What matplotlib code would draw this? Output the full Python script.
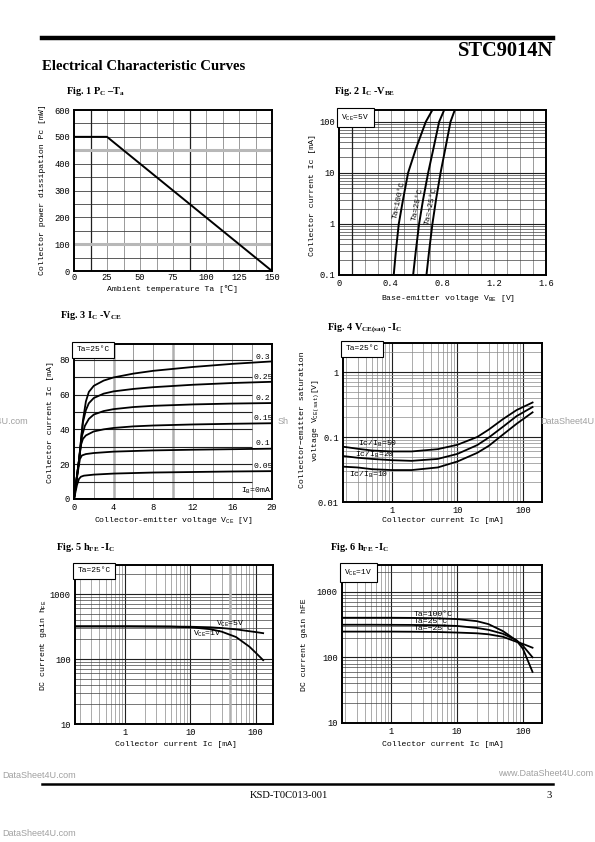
import matplotlib
matplotlib.use('Agg')
import matplotlib.pyplot as plt
from matplotlib.lines import Line2D
from matplotlib.ticker import NullFormatter, MultipleLocator, LogLocator

plt.rcParams['font.family'] = ['Liberation Mono', 'DejaVu Sans Mono', 'DejaVu Sans']
plt.rcParams['mathtext.fontset'] = 'custom'
plt.rcParams['mathtext.rm'] = 'Liberation Mono'
plt.rcParams['mathtext.it'] = 'Liberation Mono'
plt.rcParams['mathtext.bf'] = 'Liberation Serif:bold'
plt.rcParams['font.size'] = 6

# ---- data ----
# Fig 1  Pc - Ta
ta = [0, 25, 150]
pc = [500, 500, 0]

# Fig 2  Ic - Vbe  (Vce = 5V)
ic_vbe = [0.1, 0.3, 1, 3, 10, 30, 100, 170]
vbe_100 = [0.423, 0.440, 0.462, 0.495, 0.534, 0.595, 0.671, 0.722]
vbe_25 = [0.573, 0.594, 0.619, 0.650, 0.689, 0.730, 0.774, 0.813]
vbe_m25 = [0.676, 0.697, 0.722, 0.750, 0.785, 0.822, 0.862, 0.895]

# Fig 3  Ic - Vce  (curves by Ib in mA)
ib_labels = ['0.3', '0.25', '0.2', '0.15', '0.1', '0.05']
vce_03 = [0, 0.5, 0.9, 1.2, 1.5, 2, 3, 4, 6, 8, 12, 16, 20]
ic_03 = [0, 22, 45, 56, 61.5, 65, 68, 69.8, 72, 73.6, 75.8, 77.6, 79]
vce_025 = [0, 0.5, 0.9, 1.2, 1.5, 2, 3, 4, 6, 8, 12, 16, 20]
ic_025 = [0, 22, 44, 51, 55, 58, 60.5, 61.8, 63.2, 64.2, 65.6, 66.6, 67.3]
vce_02 = [0, 0.5, 0.8, 1.1, 1.5, 2, 3, 4, 6, 8, 12, 16, 20]
ic_02 = [0, 22, 36, 42, 46, 48.5, 50.5, 51.6, 52.8, 53.5, 54.3, 54.8, 55.1]
vce_015 = [0, 0.5, 0.7, 0.9, 1.2, 2, 3, 4, 6, 8, 12, 16, 20]
ic_015 = [0, 22, 31, 34.5, 36.5, 38.8, 40, 40.8, 41.7, 42.2, 42.8, 43.2, 43.5]
vce_01 = [0, 0.4, 0.6, 0.8, 1.2, 2, 4, 8, 12, 16, 20]
ic_01 = [0, 16, 23, 25, 25.8, 26.4, 27.2, 27.9, 28.3, 28.6, 28.9]
vce_005 = [0, 0.3, 0.5, 0.7, 1, 2, 4, 8, 12, 16, 20]
ic_005 = [0, 8, 11.5, 12.8, 13.4, 14, 14.6, 15.2, 15.5, 15.8, 16]
vce_0 = [0, 20]
ic_0 = [0, 0]
ib_label_y = [81.5, 69.8, 57.8, 46, 31.7, 18.8]

# Fig 4  Vce(sat) - Ic
ic_sat = [0.18, 0.3, 0.5, 1, 2, 5, 10, 20, 30, 50, 80, 140]
vsat_50 = [0.071, 0.066, 0.062, 0.060, 0.060, 0.065, 0.076, 0.10, 0.13, 0.19, 0.26, 0.34]
vsat_20 = [0.051, 0.048, 0.046, 0.044, 0.043, 0.046, 0.055, 0.075, 0.098, 0.145, 0.21, 0.29]
vsat_10 = [0.035, 0.034, 0.032, 0.031, 0.031, 0.034, 0.042, 0.057, 0.073, 0.11, 0.16, 0.24]

# Fig 5  hFE - Ic (Ta = 25C)
ic_h5 = [0.17, 0.5, 1, 2, 5, 10, 20, 30, 50, 80, 100, 130]
hfe_5v = [318, 318, 318, 317, 316, 314, 308, 300, 286, 268, 260, 250]
hfe_1v = [318, 318, 318, 317, 315, 308, 288, 264, 218, 155, 125, 96]

# Fig 6  hFE - Ic (Vce = 1V)
ic_h6 = [0.18, 0.5, 1, 2, 5, 10, 20, 30, 50, 80, 100, 140]
hfe_100 = [400, 400, 400, 398, 392, 382, 355, 320, 250, 180, 135, 60]
hfe_25 = [313, 313, 312, 311, 308, 300, 280, 262, 228, 182, 150, 100]
hfe_m25 = [246, 246, 246, 245, 243, 238, 232, 224, 205, 172, 160, 140]

W, H = 595, 842
fig = plt.figure(figsize=(5.95, 8.42), dpi=100)
fig.patch.set_facecolor('white')
TICK = 6.3
LAB = 5.9
TITLE = 7.4


def add_ax(l, t, r, b):
    ax = fig.add_axes([l / W, 1 - b / H, (r - l) / W, (b - t) / H])
    for s in ax.spines.values():
        s.set_linewidth(1.4)
    ax.tick_params(which='both', length=0, pad=3, labelsize=TICK)
    return ax


def ftext(x, y, s, **kw):
    fig.text(x / W, 1 - y / H, s, **kw)


def logfix(ax, axis='both'):
    for a in ([ax.xaxis, ax.yaxis] if axis == 'both' else [getattr(ax, axis + 'axis')]):
        a.set_minor_locator(LogLocator(base=10, subs=range(2, 10)))
        a.set_minor_formatter(NullFormatter())


def boxlabel(ax, s):
    ax.text(0.012, 0.985, s, transform=ax.transAxes, ha='left', va='top', fontsize=5.7,
            bbox=dict(boxstyle='square,pad=0.55', fc='white', ec='black', lw=0.8), zorder=5)


serif = dict(family='Liberation Serif', weight='bold')

# ---- page header / footer ----
fig.add_artist(Line2D([42 / W, 553 / W], [1 - 38 / H] * 2, color='k', lw=3.2))
ftext(553, 51, 'STC9014N', ha='right', va='center', fontsize=14.8, **serif)
ftext(42, 67, 'Electrical Characteristic Curves', ha='left', va='center', fontsize=10.6, **serif)
fig.add_artist(Line2D([42 / W, 553 / W], [1 - 784 / H] * 2, color='k', lw=1.8))
ftext(289, 795, 'KSD-T0C013-001', ha='center', va='center', fontsize=7.6, family='Liberation Serif')
ftext(552, 795, '3', ha='right', va='center', fontsize=7.6, family='Liberation Serif')
wm = dict(color='#a0a0a0', family='Liberation Sans', fontsize=6.5, va='center')
ftext(2, 776, 'DataSheet4U.com', ha='left', **wm)
ftext(593, 774, 'www.DataSheet4U.com', ha='right', **wm)
ftext(2, 833, 'DataSheet4U.com', ha='left', **wm)
ftext(28, 421, 'DataSheet4U.com', ha='right', **wm)
ftext(278, 421, 'Sh', ha='left', **wm)
ftext(540, 421, 'DataSheet4U.com', ha='left', **wm)

# ---- Fig 1 ----
ftext(66, 92, 'Fig. 1 P$\\mathbf{_{C}}$ \u2013T$\\mathbf{_{a}}$', ha='left', va='center', fontsize=TITLE, **serif)
ax1 = add_ax(74, 110, 272, 271)
ax1.tick_params(axis='x', pad=1.5)
ax1.set_xlim(0, 150)
ax1.set_ylim(0, 600)
ax1.set_xticks([0, 25, 50, 75, 100, 125, 150])
ax1.set_yticks([0, 100, 200, 300, 400, 500, 600])
ax1.xaxis.set_minor_locator(MultipleLocator(12.5))
ax1.yaxis.set_minor_locator(MultipleLocator(50))
ax1.grid(which='both', axis='x', color='#8a8a8a', lw=0.6)
ax1.grid(which='both', axis='y', color='#404040', lw=0.6)
for xv in [12.5, 87.5]:
    ax1.axvline(xv, color='#202020', lw=0.9)
for yv in [100, 450]:
    ax1.axhline(yv, color='#b8b8b8', lw=2.2)
ax1.plot(ta, pc, color='k', lw=1.4, zorder=4)
ftext(43, 190, 'Collector power dissipation Pc [mW]', rotation=90, ha='center', va='center', fontsize=LAB)
ftext(172, 289, 'Ambient temperature Ta [\u2103]', ha='center', va='center', fontsize=LAB)

# ---- Fig 2 ----
ftext(334, 92, 'Fig. 2 I$\\mathbf{_{C}}$ -V$\\mathbf{_{BE}}$', ha='left', va='center', fontsize=TITLE, **serif)
ax2 = add_ax(339, 110, 546, 275)
ax2.set_yscale('log')
ax2.set_xlim(0, 1.6)
ax2.set_ylim(0.1, 170)
logfix(ax2, 'y')
ax2.set_xticks([0, 0.4, 0.8, 1.2, 1.6])
ax2.set_xticklabels(['0', '0.4', '0.8', '1.2', '1.6'])
ax2.set_yticks([0.1, 1, 10, 100])
ax2.set_yticklabels(['0.1', '1', '10', '100'])
ax2.xaxis.set_minor_locator(MultipleLocator(0.1))
ax2.grid(which='both', axis='x', color='#8a8a8a', lw=0.6)
ax2.grid(which='minor', axis='y', color='#404040', lw=0.5)
ax2.grid(which='major', axis='y', color='#202020', lw=0.8)
ax2.axvline(0.1, color='#202020', lw=0.9)
for v in [vbe_100, vbe_25, vbe_m25]:
    ax2.plot(v, ic_vbe, color='k', lw=1.4, zorder=4)
for x, y, s in [(0.465, 2.9, 'Ta=100\u00b0C'), (0.605, 2.4, 'Ta=25\u00b0C'), (0.715, 2.2, 'Ta=\u221225\u00b0C')]:
    ax2.text(x, y, s, rotation=78, ha='center', va='center', fontsize=5.8, zorder=5)
boxlabel(ax2, 'V$_{\\rm CE}$=5V')
ftext(312, 195, 'Collector current Ic [mA]', rotation=90, ha='center', va='center', fontsize=LAB)
ftext(448, 298, 'Base-emitter voltage V$_{\\rm BE}$ [V]', ha='center', va='center', fontsize=LAB)

# ---- Fig 3 ----
ftext(60, 315, 'Fig. 3 I$\\mathbf{_{C}}$ -V$\\mathbf{_{CE}}$', ha='left', va='center', fontsize=TITLE, **serif)
ax3 = add_ax(74, 344, 272, 499)
ax3.set_xlim(0, 20)
ax3.set_ylim(0, 89)
ax3.set_xticks([0, 4, 8, 12, 16, 20])
ax3.set_yticks([0, 20, 40, 60, 80])
for xv in [2, 6, 8, 12, 14, 16, 18]:
    ax3.axvline(xv, color='#8a8a8a', lw=0.6)
for xv in [4, 10]:
    ax3.axvline(xv, color='#b0b0b0', lw=1.8)
ax3.hlines([10, 20, 30, 40, 50, 60, 70, 80], 0, 18, color='#202020', lw=0.8)
curves3 = [(vce_03, ic_03), (vce_025, ic_025), (vce_02, ic_02), (vce_015, ic_015),
           (vce_01, ic_01), (vce_005, ic_005), (vce_0, ic_0)]
for v, i in curves3:
    ax3.plot(v, i, color='k', lw=1.3, zorder=4)
for s, y in zip(ib_labels, ib_label_y):
    ax3.text(19.1, y, s, ha='center', va='center', fontsize=LAB)
ax3.text(19.9, 4.6, 'I$_{\\rm B}$=0mA', ha='right', va='center', fontsize=LAB)
boxlabel(ax3, 'Ta=25\u00b0C')
ftext(51, 422, 'Collector current Ic [mA]', rotation=90, ha='center', va='center', fontsize=LAB)
ftext(173, 520, 'Collector-emitter voltage V$_{\\rm CE}$ [V]', ha='center', va='center', fontsize=LAB)

# ---- Fig 4 ----
ftext(327, 328, 'Fig. 4 V$\\mathbf{_{CE(sat)}}$ -I$\\mathbf{_{C}}$', ha='left', va='center', fontsize=TITLE, **serif)
ax4 = add_ax(343, 343, 542, 502)
ax4.set_xscale('log')
ax4.set_yscale('log')
ax4.set_xlim(0.18, 195)
ax4.set_ylim(0.01, 2.8)
logfix(ax4)
ax4.set_xticks([1, 10, 100])
ax4.set_xticklabels(['1', '10', '100'])
ax4.set_yticks([0.01, 0.1, 1])
ax4.set_yticklabels(['0.01', '0.1', '1'])
ax4.grid(which='minor', color='#8a8a8a', lw=0.5)
ax4.grid(which='major', color='#202020', lw=0.8)
for v in [vsat_50, vsat_20, vsat_10]:
    ax4.plot(ic_sat, v, color='k', lw=1.3, zorder=4)
for x, y, s in [(0.31, 0.079, 'Ic/I$_{\\rm B}$=50'), (0.27, 0.053, 'Ic/I$_{\\rm B}$=20'),
                (0.22, 0.026, 'Ic/I$_{\\rm B}$=10')]:
    ax4.text(x, y, s, ha='left', va='center', fontsize=LAB, zorder=5)
boxlabel(ax4, 'Ta=25\u00b0C')
ftext(303, 420, 'Collector\u2212emitter saturation', rotation=90, ha='center', va='center', fontsize=LAB)
ftext(316, 420, 'voltage V$_{\\rm CE(sat)}$[V]', rotation=90, ha='center', va='center', fontsize=LAB)
ftext(443, 521, 'Collector current Ic [mA]', ha='center', va='center', fontsize=LAB)

# ---- Fig 5 ----
ftext(56, 547, 'Fig. 5 h$\\mathbf{_{FE}}$ -I$\\mathbf{_{C}}$', ha='left', va='center', fontsize=TITLE, **serif)
ax5 = add_ax(75, 565, 273, 724)
ax5.set_xscale('log')
ax5.set_yscale('log')
ax5.set_xlim(0.17, 184)
ax5.set_ylim(10, 2800)
logfix(ax5)
ax5.set_xticks([1, 10, 100])
ax5.set_xticklabels(['1', '10', '100'])
ax5.set_yticks([10, 100, 1000])
ax5.set_yticklabels(['10', '100', '1000'])
ax5.grid(which='minor', axis='x', color='#8a8a8a', lw=0.5)
ax5.grid(which='minor', axis='y', color='#404040', lw=0.5)
ax5.grid(which='major', color='#202020', lw=0.8)
ax5.axvline(40, color='#b0b0b0', lw=1.8)
ax5.plot(ic_h5, hfe_5v, color='k', lw=1.3, zorder=4)
ax5.plot(ic_h5, hfe_1v, color='k', lw=1.3, zorder=4)
ax5.text(25, 350, 'V$_{\\rm CE}$=5V', ha='left', va='center', fontsize=LAB, zorder=5)
ax5.text(11, 240, 'V$_{\\rm CE}$=1V', ha='left', va='center', fontsize=LAB, zorder=5)
boxlabel(ax5, 'Ta=25\u00b0C')
ftext(43, 645, 'DC current gain h$_{\\rm FE}$', rotation=90, ha='center', va='center', fontsize=LAB)
ftext(176, 745, 'Collector current Ic [mA]', ha='center', va='center', fontsize=LAB)

# ---- Fig 6 ----
ftext(330, 547, 'Fig. 6 h$\\mathbf{_{FE}}$ -I$\\mathbf{_{C}}$', ha='left', va='center', fontsize=TITLE, **serif)
ax6 = add_ax(342, 565, 542, 723)
ax6.set_xscale('log')
ax6.set_yscale('log')
ax6.set_xlim(0.18, 195)
ax6.set_ylim(10, 2540)
logfix(ax6)
ax6.set_xticks([1, 10, 100])
ax6.set_xticklabels(['1', '10', '100'])
ax6.set_yticks([10, 100, 1000])
ax6.set_yticklabels(['10', '100', '1000'])
ax6.grid(which='minor', axis='x', color='#8a8a8a', lw=0.5)
ax6.grid(which='minor', axis='y', color='#404040', lw=0.5)
ax6.grid(which='major', color='#202020', lw=0.8)
for h in [hfe_100, hfe_25, hfe_m25]:
    ax6.plot(ic_h6, h, color='k', lw=1.3, zorder=4)
for y, s in [(450, 'Ta=100\u00b0C'), (350, 'Ta=25\u00b0C'), (270, 'Ta=\u221225\u00b0C')]:
    ax6.text(2.2, y, s, ha='left', va='center', fontsize=LAB, zorder=5)
boxlabel(ax6, 'V$_{\\rm CE}$=1V')
ftext(305, 645, 'DC current gain hFE', rotation=90, ha='center', va='center', fontsize=LAB)
ftext(443, 745, 'Collector current Ic [mA]', ha='center', va='center', fontsize=LAB)

fig.savefig('out.png', dpi=100)
